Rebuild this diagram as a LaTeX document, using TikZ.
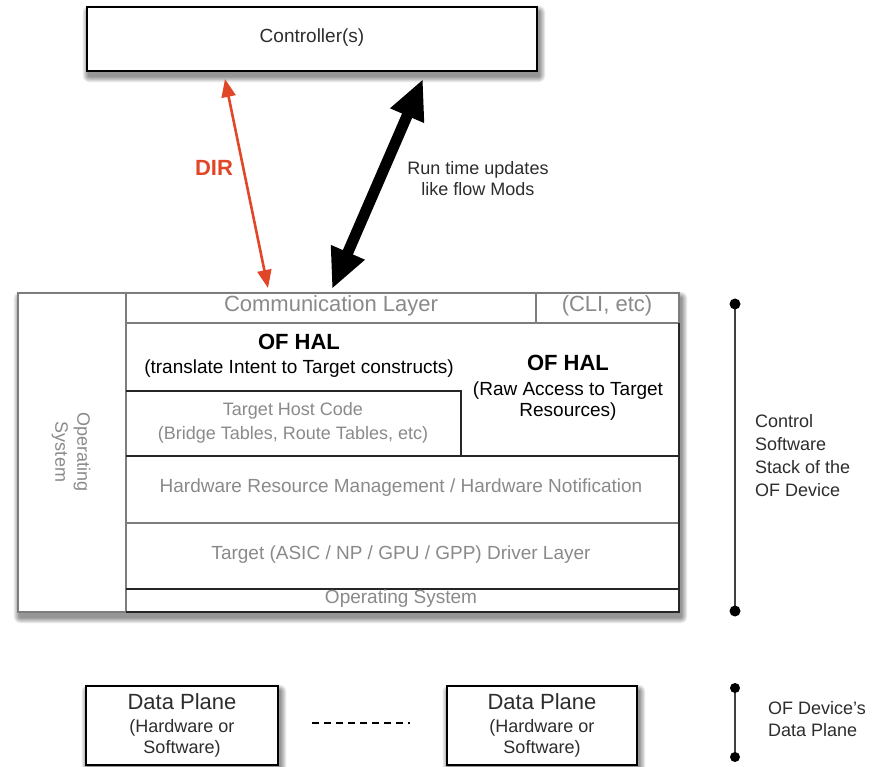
\documentclass[tikz,border=0pt]{standalone}
\usepackage{fontspec}
\setmainfont{Liberation Sans}
\usetikzlibrary{arrows.meta}
\definecolor{dirred}{RGB}{225,70,40}
\definecolor{txtgray}{RGB}{138,138,138}
\definecolor{txtdark}{RGB}{45,45,45}
\definecolor{lngray}{RGB}{125,125,125}
\newcommand\softshadow[4]{%
  \foreach \k in {1,...,7}{%
    \fill[black,opacity=0.07,rounded corners=\k pt]
      (#1-\k*0.9+2, #2-\k*0.9+5) rectangle (#3+\k*0.9+2, #4+\k*0.9+5);
  }%
}
\begin{document}
\begin{tikzpicture}[x=1pt,y=-1pt,
  txt/.style={inner sep=0pt, text height=0.75em, text depth=0.2em},
  f19/.style={font=\fontsize{19}{23}\selectfont},
  f18/.style={font=\fontsize{18}{22}\selectfont},
  f22/.style={font=\fontsize{22}{26}\selectfont},
  f22b/.style={font=\fontsize{22}{26}\selectfont\bfseries},
  graytxt/.style={txt, text=txtgray},
  darktxt/.style={txt, text=txtdark},
  cbox/.style={draw=black, line width=2pt, fill=white, inner sep=0pt},
  gl/.style={draw=lngray, line width=1.3pt},
  dl/.style={draw=black!85, line width=1.5pt},
  dirarrow/.style={draw=dirred, line width=2.6pt,
    {Triangle[length=18pt,width=14pt]}-{Triangle[length=18pt,width=14pt]}},
  bigarrow/.style={draw=black, line width=11pt,
    {Triangle[length=40pt,width=34pt]}-{Triangle[length=40pt,width=34pt]}},
  brk/.style={draw=black!75, line width=2pt},
]
\useasboundingbox[fill=white] (0,0) rectangle (887,767);

% shadows
\softshadow{87}{7}{537}{71}
\softshadow{18}{293}{679}{612}
\softshadow{86}{686}{278}{765}
\softshadow{447}{686}{637}{765}

% controller
\node[cbox, minimum width=450pt, minimum height=64pt] (ctrl) at (312,39) {};
\node[darktxt, f19] (ctrltxt) at (312,40) {Controller(s)};

% arrows
\coordinate (dirA) at (225,79);
\coordinate (dirB) at (268,288);
\draw[dirarrow] (dirA) -- (dirB);
\node[txt, f22b, text=dirred] (dirtxt) at (214,173) {DIR};

\coordinate (runA) at (423,79);
\coordinate (runB) at (332,289);
\draw[bigarrow] (runA) -- (runB);
\node[darktxt, f18] (run1) at (478,172) {Run time updates};
\node[darktxt, f18] (run2) at (478,193) {like flow Mods};

% stack
\node[draw=lngray, line width=1.3pt, fill=white, minimum width=661pt,
      minimum height=319pt, inner sep=0pt] (stack) at (348.5,452.5) {};
\draw[gl] (126,293) -- (126,612);
\draw[gl] (126,323) -- (679,323);
\draw[gl] (536,293) -- (536,323);
\draw[dl] (126,391) -- (461,391) -- (461,456);
\draw[dl] (126,456) -- (679,456);
\draw[gl] (126,523) -- (679,523);
\draw[dl] (126,589) -- (679,589);
\draw[dl] (126,612) -- (679,612) -- (679,323);

\node[graytxt, f22] (comm) at (331,309) {Communication Layer};
\node[graytxt, f22] (cli) at (607,309) {(CLI, etc)};
\node[txt, f22b] (hal1) at (299,347) {OF HAL};
\node[txt, f19] (hal1b) at (299,371) {(translate Intent to Target constructs)};
\node[graytxt, f18] (thc1) at (293,413) {Target Host Code};
\node[graytxt, f18] (thc2) at (293,437) {(Bridge Tables, Route Tables, etc)};
\node[txt, f22b] (hal2) at (568,368) {OF HAL};
\node[txt, f19] (hal2b) at (568,393) {(Raw Access to Target};
\node[txt, f19] (hal2c) at (568,414) {Resources)};
\node[graytxt, f19] (hwrm) at (401,490) {Hardware Resource Management / Hardware Notification};
\node[graytxt, f19] (drv) at (401,557) {Target (ASIC / NP / GPU / GPP) Driver Layer};
\node[graytxt, f19] (os) at (401,601) {Operating System};
\node[graytxt, f18, rotate=-90, align=center, text height=, text depth=]
  (osv) at (71,452) {Operating\\System};

% control software bracket
\coordinate (brA) at (735,304);
\coordinate (brB) at (735,611);
\draw[brk] (brA) -- (brB);
\fill[black] (brA) circle (5.5pt);
\fill[black] (brB) circle (5.5pt);
\node[darktxt, f18, anchor=west] (cs1) at (755,425) {Control};
\node[darktxt, f18, anchor=west] (cs2) at (755,448) {Software};
\node[darktxt, f18, anchor=west] (cs3) at (755,471) {Stack of the};
\node[darktxt, f18, anchor=west] (cs4) at (755,494) {OF Device};

% data planes
\node[cbox, minimum width=192pt, minimum height=79pt] (dp1) at (182,725.5) {};
\node[cbox, minimum width=190pt, minimum height=79pt] (dp2) at (542,725.5) {};
\node[darktxt, f22] (dp1a) at (182,707) {Data Plane};
\node[darktxt, f18] (dp1b) at (182,730) {(Hardware or};
\node[darktxt, f18] (dp1c) at (182,751) {Software)};
\node[darktxt, f22] (dp2a) at (542,707) {Data Plane};
\node[darktxt, f18] (dp2b) at (542,730) {(Hardware or};
\node[darktxt, f18] (dp2c) at (542,751) {Software)};
\coordinate (dsA) at (312,723);
\coordinate (dsB) at (410,723);
\draw[black, line width=1.5pt, dash pattern=on 7pt off 5pt] (dsA) -- (dsB);

\coordinate (dbA) at (735,688);
\coordinate (dbB) at (735,757);
\draw[brk] (dbA) -- (dbB);
\fill[black] (dbA) circle (5pt);
\fill[black] (dbB) circle (5pt);
\node[darktxt, f18, anchor=west] (ofd1) at (768,712) {OF Device's};
\node[darktxt, f18, anchor=west] (ofd2) at (768,734) {Data Plane};
\end{tikzpicture}
\end{document}
